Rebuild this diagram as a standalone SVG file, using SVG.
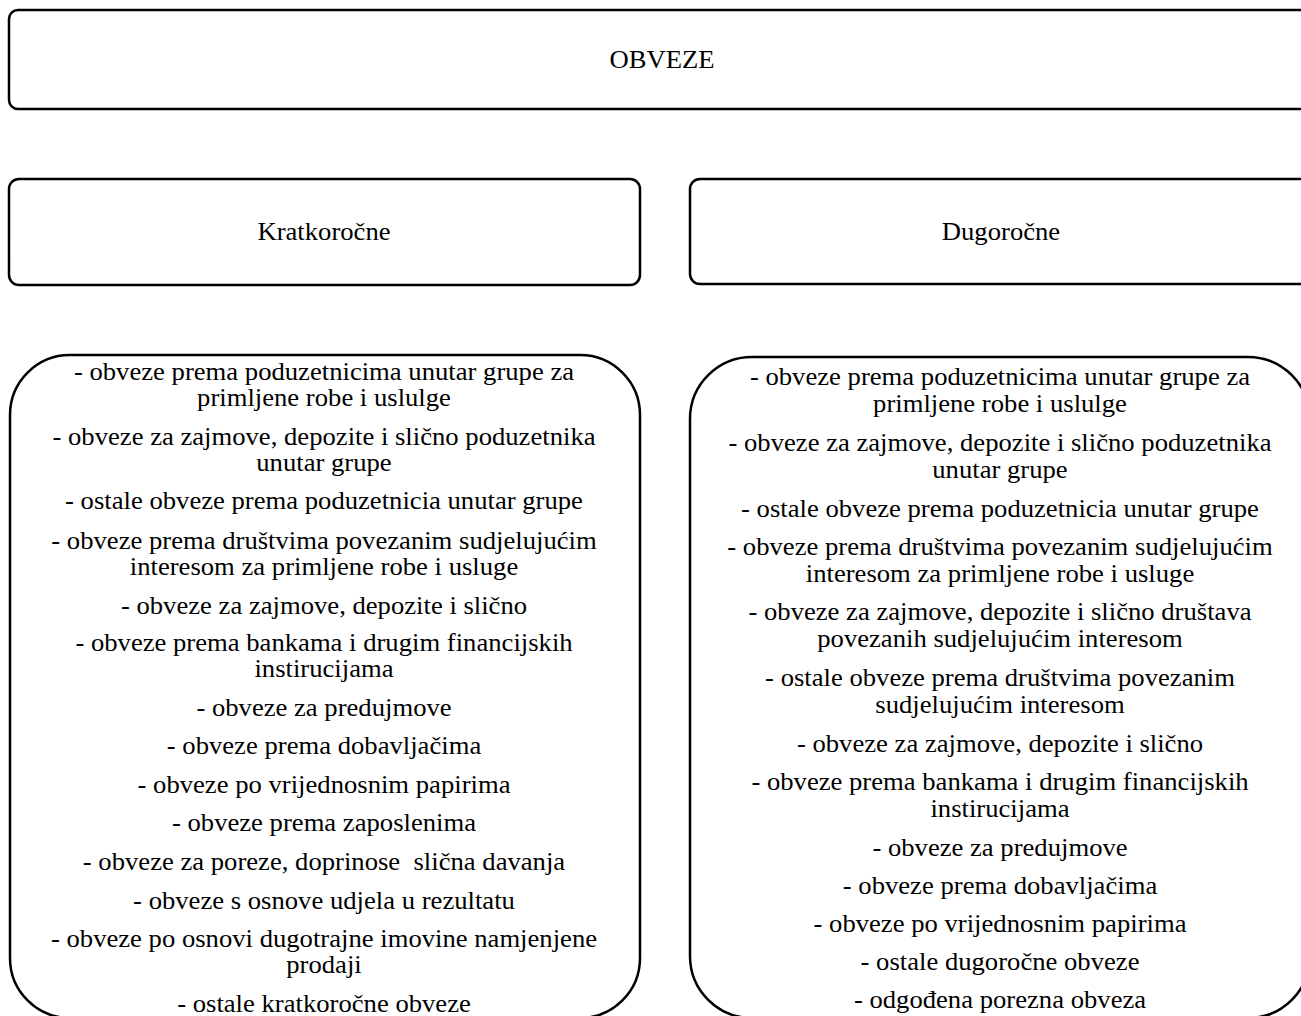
<svg xmlns="http://www.w3.org/2000/svg" width="1301" height="1016" viewBox="0 0 1301 1016">
<style>
.box{fill:#fff;stroke:#000;stroke-width:2.5}
text{font-family:"Liberation Serif","Times New Roman",serif;font-size:25.5px;fill:#000;text-anchor:middle}
.pre{white-space:pre}
</style>
<rect width="1301" height="1016" fill="#fff"/>
<g id="obveze">
<rect class="box" x="9" y="10" width="1307" height="99" rx="9"/>
<g transform="translate(662 0) scale(1.045 1)"><text x="0" y="68">OBVEZE</text></g>
</g>
<g id="kratkorocne">
<rect class="box" x="9" y="179" width="631" height="106" rx="10"/>
<g transform="translate(324 0) scale(1.045 1)"><text x="0" y="240">Kratkoročne</text></g>
</g>
<g id="dugorocne">
<rect class="box" x="690" y="179" width="626" height="105" rx="10"/>
<g transform="translate(1001 0) scale(1.045 1)"><text x="0" y="240">Dugoročne</text></g>
</g>
<g id="connectors"></g>
<g id="kratkorocne-list">
<rect class="box" x="10" y="355" width="630" height="663" rx="60"/>
<g transform="translate(324 0) scale(1.045 1)">
<text x="0" y="380">- obveze prema poduzetnicima unutar grupe za</text>
<text x="0" y="406">primljene robe i uslulge</text>
<text x="0" y="445">- obveze za zajmove, depozite i slično poduzetnika</text>
<text x="0" y="471">unutar grupe</text>
<text x="0" y="509">- ostale obveze prema poduzetnicia unutar grupe</text>
<text x="0" y="549">- obveze prema društvima povezanim sudjelujućim</text>
<text x="0" y="575">interesom za primljene robe i usluge</text>
<text x="0" y="614">- obveze za zajmove, depozite i slično</text>
<text x="0" y="651">- obveze prema bankama i drugim financijskih</text>
<text x="0" y="677">instirucijama</text>
<text x="0" y="716">- obveze za predujmove</text>
<text x="0" y="754">- obveze prema dobavljačima</text>
<text x="0" y="793">- obveze po vrijednosnim papirima</text>
<text x="0" y="831">- obveze prema zaposlenima</text>
<text class="pre" x="0" y="870">- obveze za poreze, doprinose  slična davanja</text>
<text x="0" y="909">- obveze s osnove udjela u rezultatu</text>
<text x="0" y="947">- obveze po osnovi dugotrajne imovine namjenjene</text>
<text x="0" y="973">prodaji</text>
<text x="0" y="1012">- ostale kratkoročne obveze</text>
</g>
</g>
<g id="dugorocne-list">
<rect class="box" x="690" y="357" width="620" height="661" rx="62"/>
<g transform="translate(1000 0) scale(1.045 1)">
<text x="0" y="385">- obveze prema poduzetnicima unutar grupe za</text>
<text x="0" y="412">primljene robe i uslulge</text>
<text x="0" y="451">- obveze za zajmove, depozite i slično poduzetnika</text>
<text x="0" y="478">unutar grupe</text>
<text x="0" y="517">- ostale obveze prema poduzetnicia unutar grupe</text>
<text x="0" y="555">- obveze prema društvima povezanim sudjelujućim</text>
<text x="0" y="582">interesom za primljene robe i usluge</text>
<text x="0" y="620">- obveze za zajmove, depozite i slično društava</text>
<text x="0" y="647">povezanih sudjelujućim interesom</text>
<text x="0" y="686">- ostale obveze prema društvima povezanim</text>
<text x="0" y="713">sudjelujućim interesom</text>
<text x="0" y="752">- obveze za zajmove, depozite i slično</text>
<text x="0" y="790">- obveze prema bankama i drugim financijskih</text>
<text x="0" y="817">instirucijama</text>
<text x="0" y="856">- obveze za predujmove</text>
<text x="0" y="894">- obveze prema dobavljačima</text>
<text x="0" y="932">- obveze po vrijednosnim papirima</text>
<text x="0" y="970">- ostale dugoročne obveze</text>
<text x="0" y="1008">- odgođena porezna obveza</text>
</g>
</g>
</svg>
